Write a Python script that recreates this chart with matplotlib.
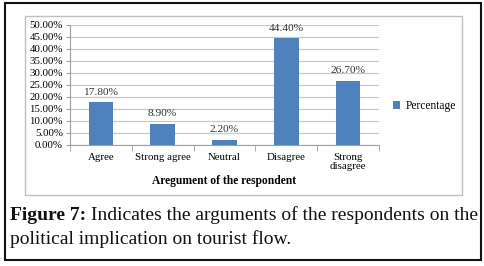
import matplotlib
matplotlib.use("Agg")
import matplotlib.pyplot as plt
from matplotlib.patches import Rectangle
from matplotlib.ticker import FuncFormatter, FixedLocator
import numpy as np

categories = ["Agree", "Strong agree", "Neutral", "Disagree", "Strong\ndisagree"]
values = [17.80, 8.90, 2.20, 44.40, 26.70]
value_labels = ["17.80%", "8.90%", "2.20%", "44.40%", "26.70%"]
series_name = "Percentage"
x_title = "Aregument of the respondent"
caption_bold = "Figure 7:"
caption_line1 = " Indicates the arguments of the respondents on the"
caption_line2 = "political implication on tourist flow."

W, H = 484, 266
fig = plt.figure(figsize=(W / 100, H / 100), dpi=100)
plt.rcParams['font.family'] = ['Liberation Serif', 'DejaVu Serif']

def fx(px):
    return px / W

def fy(py):
    return 1 - py / H

# outer black border and inner chart box
fig.patches.append(Rectangle((fx(5), fy(260)), fx(481) - fx(5), fy(3) - fy(260),
                             transform=fig.transFigure, fill=False, edgecolor="#111111", lw=1.5))
fig.patches.append(Rectangle((fx(25), fy(195)), fx(462) - fx(25), fy(16) - fy(195),
                             transform=fig.transFigure, fill=False, edgecolor="#bfbfbf", lw=1.0))

ax = fig.add_axes([fx(70), fy(145), fx(379) - fx(70), fy(25) - fy(145)])
x = np.arange(len(categories))
bars = ax.bar(x, values, width=0.4, color="#4f81bd", label=series_name, zorder=3)
ax.set_xlim(-0.5, len(categories) - 0.5)
ax.set_ylim(0, 50)
ax.yaxis.set_major_locator(FixedLocator(np.arange(0, 50.01, 5)))
ax.yaxis.set_major_formatter(FuncFormatter(lambda v, p: f"{v:.2f}%"))
ax.grid(axis="y", color="#c8c8c8", lw=0.9, zorder=0)
for s in ["top", "right"]:
    ax.spines[s].set_visible(False)
for s in ["left", "bottom"]:
    ax.spines[s].set_color("#a0a0a0")
ax.set_xticks(x)
ax.set_xticklabels(categories, fontsize=7.8, linespacing=0.95)
ax.set_xticks(np.arange(-0.5, len(categories)), minor=True)
ax.tick_params(axis="x", which="major", length=0, pad=6)
ax.tick_params(axis="x", which="minor", length=4, color="#a0a0a0")
ax.tick_params(axis="y", labelsize=7.8, length=3, color="#a0a0a0", pad=2)
for t in ax.get_xticklabels():
    t.set_verticalalignment("top")

for xi, v, lab in zip(x, values, value_labels):
    ax.annotate(lab, (xi, v), xytext=(0, 4), textcoords="offset points",
                ha="center", va="bottom", fontsize=8.2, color="#333333")

ax.set_xlabel(x_title, fontsize=8.3, fontweight="bold", labelpad=3)

fig.legend(handles=[bars], labels=[series_name], loc="center left",
           bbox_to_anchor=(fx(393), fy(106)), bbox_transform=fig.transFigure,
           frameon=False, fontsize=8.3, handlelength=0.6, handleheight=0.6,
           handletextpad=0.5, borderpad=0, borderaxespad=0)

# caption
cap_fs = 14
t1 = fig.text(fx(10), fy(215), caption_bold, fontsize=cap_fs, fontweight="bold",
              va="center", ha="left", color="#111111")
fig.canvas.draw()
r = fig.canvas.get_renderer()
bb = t1.get_window_extent(r)
fig.text(bb.x1 / W, fy(215), caption_line1, fontsize=cap_fs, va="center", ha="left", color="#111111")
fig.text(fx(10), fy(239), caption_line2, fontsize=cap_fs, va="center", ha="left", color="#111111")

fig.savefig("out.png", dpi=100)
